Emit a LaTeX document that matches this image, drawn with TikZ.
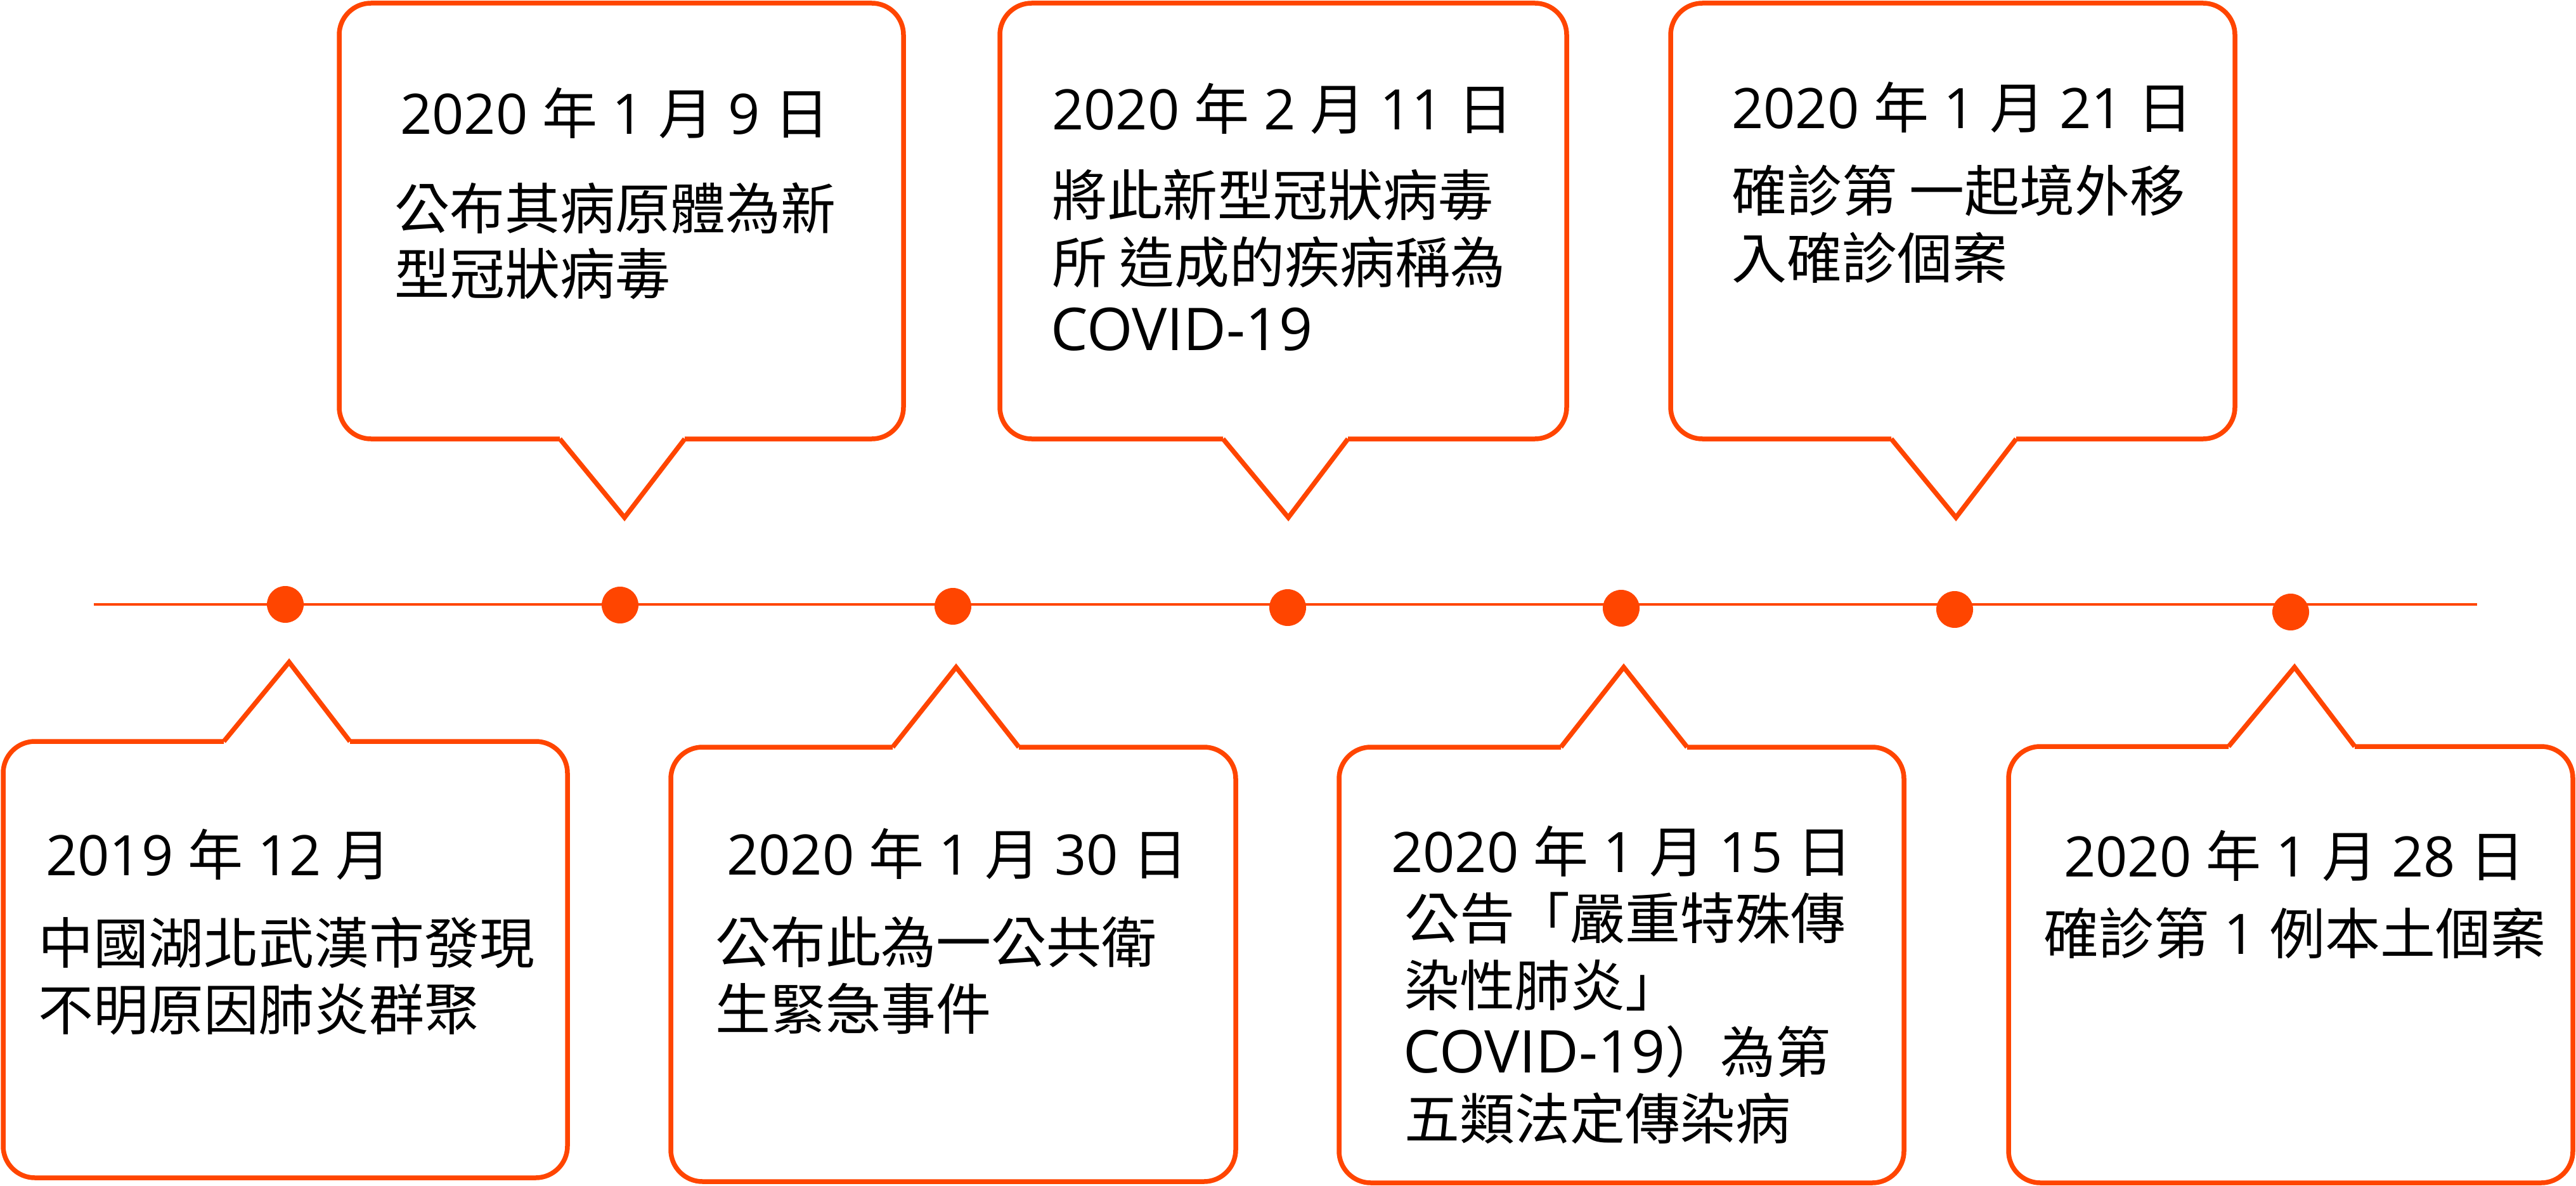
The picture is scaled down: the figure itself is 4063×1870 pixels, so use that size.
\documentclass[tikz,border=0pt]{standalone}
\usepackage{fontspec}
\newfontfamily\cjk{Noto Sans CJK TC}
\newfontfamily\latf{Open Sans}
\newcommand\lt[1]{{\latf\fontsize{88}{105}\selectfont #1}}
\newcommand\ltb[1]{{\latf\fontsize{93}{105}\selectfont #1}}
\definecolor{orx}{RGB}{255,69,0}
\begin{document}
\begin{tikzpicture}[x=1pt,y=-1pt,
  frame/.style={draw=orx,line width=7.5pt,rounded corners=50pt},
  tipline/.style={draw=orx,line width=7.5pt,line join=miter},
  axis/.style={draw=orx,line width=4pt},
  dotmark/.style={circle,fill=orx,inner sep=0pt,minimum size=58pt},
  txt/.style={anchor=base west,inner sep=0pt,font=\cjk\fontsize{87}{105}\selectfont,text=black}]
\useasboundingbox (0,0) rectangle (4063,1870);

% timeline
\coordinate (ls) at (148,953);
\coordinate (le) at (3907,953);
\draw[axis] (ls) -- (le);
\node[dotmark] (p1) at (450,953) {};
\node[dotmark] (p2) at (978,954) {};
\node[dotmark] (p3) at (1503,956) {};
\node[dotmark] (p4) at (2031,958) {};
\node[dotmark] (p5) at (2557,959) {};
\node[dotmark] (p6) at (3083,961) {};
\node[dotmark] (p7) at (3613,965) {};

% ---- top callouts ----
% box 2
\draw[frame] (1080,692) -- (1425,692) -- (1425,5) -- (535,5) -- (535,692) -- (883,692);
\draw[tipline] (883,692) -- (985,816) -- (1080,692);
% box 4
\draw[frame] (2126,692) -- (2471,692) -- (2471,5) -- (1577,5) -- (1577,692) -- (1929,692);
\draw[tipline] (1929,692) -- (2032,816) -- (2126,692);
% box 6
\draw[frame] (3180,692) -- (3525,692) -- (3525,5) -- (2635,5) -- (2635,692) -- (2983,692);
\draw[tipline] (2983,692) -- (3085,816) -- (3180,692);

% ---- bottom callouts ----
% box 1
\draw[frame] (552,1169) -- (895,1169) -- (895,1857) -- (5,1857) -- (5,1169) -- (353,1169);
\draw[tipline] (353,1169) -- (456,1044) -- (552,1169);
% box 3
\draw[frame] (1607,1178) -- (1949,1178) -- (1949,1863) -- (1058,1863) -- (1058,1178) -- (1408,1178);
\draw[tipline] (1408,1178) -- (1508,1052) -- (1607,1178);
% box 5
\draw[frame] (2661,1178) -- (3003,1178) -- (3003,1865) -- (2112,1865) -- (2112,1178) -- (2462,1178);
\draw[tipline] (2462,1178) -- (2561,1052) -- (2661,1178);
% box 7
\draw[frame] (3714,1177) -- (4058,1177) -- (4058,1865) -- (3168,1865) -- (3168,1177) -- (3515,1177);
\draw[tipline] (3515,1177) -- (3619,1052) -- (3714,1177);

% ---- texts ----
\node[txt] (d1) at (72,1380) {\lt{2019 }年\lt{ 12 }月};
\node[txt] (b1a) at (60,1519) {中國湖北武漢市發現};
\node[txt] (b1b) at (60,1624) {不明原因肺炎群聚};

\node[txt] (d2) at (631,212) {\lt{2020 }年\lt{ 1 }月\lt{ 9 }日};
\node[txt] (b2a) at (622,361) {公布其病原體為新};
\node[txt] (b2b) at (622,464) {型冠狀病毒};

\node[txt] (d3) at (1146,1379) {\lt{2020 }年\lt{ 1 }月\lt{ 30 }日};
\node[txt] (b3a) at (1128,1518) {公布此為一公共衛};
\node[txt] (b3b) at (1128,1623) {生緊急事件};

\node[txt] (d4) at (1659,205) {\lt{2020 }年\lt{ 2 }月\lt{ 11 }日};
\node[txt] (b4a) at (1659,340) {將此新型冠狀病毒};
\node[txt] (b4b) at (1659,446) {所 造成的疾病稱為};
\node[txt] (b4c) at (1657,552) {\ltb{COVID-19}};

\node[txt] (d5) at (2194,1375) {\lt{2020 }年\lt{ 1 }月\lt{ 15 }日};
\node[txt] (b5a) at (2215,1480) {公告「嚴重特殊傳};
\node[txt] (b5b) at (2215,1586) {染性肺炎」};
\node[txt] (b5c) at (2213,1691) {\ltb{COVID-19}）為第};
\node[txt] (b5d) at (2215,1796) {五類法定傳染病};

\node[txt] (d6) at (2731,203) {\lt{2020 }年\lt{ 1 }月\lt{ 21 }日};
\node[txt] (b6a) at (2731,333) {確診第 一起境外移};
\node[txt] (b6b) at (2731,439) {入確診個案};

\node[txt] (d7) at (3255,1382) {\lt{2020 }年\lt{ 1 }月\lt{ 28 }日};
\node[txt] (b7a) at (3223,1504) {確診第\lt{ 1 }例本土個案};
\end{tikzpicture}
\end{document}
